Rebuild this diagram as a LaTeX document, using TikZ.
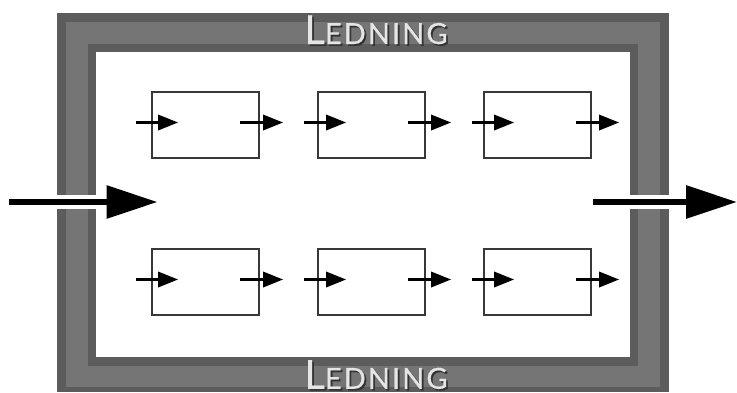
\documentclass[tikz,border=0pt]{standalone}
\usepackage{fontspec}
\setmainfont{Lato}
\usetikzlibrary{arrows.meta}
\newfontfamily\ledfont[LetterSpace=7,FakeBold=0.5]{Lato}
\definecolor{banddark}{gray}{0.36}
\definecolor{bandlight}{gray}{0.46}
\definecolor{boxline}{gray}{0.22}
\definecolor{lettercol}{gray}{0.90}
\definecolor{shadowcol}{gray}{0.20}
\newcommand{\ledword}{{\ledfont\fontsize{40}{40}\selectfont L\fontsize{29}{29}\selectfont EDNING}}
\newcommand{\shadowed}{\rlap{\kern1.8pt\raisebox{-1.8pt}{\textcolor{shadowcol}{\ledword}}}\textcolor{lettercol}{\ledword}}
\tikzset{
  x=1pt,y=-1pt,
  unitbox/.style={draw=boxline,line width=1.4pt,fill=white,minimum width=107pt,minimum height=66pt,inner sep=0pt,outer sep=0pt},
  smallarrow/.style={line width=2.2pt,-{Triangle[length=20pt,width=15.5pt]},shorten >=0pt},
  bigarrow/.style={line width=6pt,-{Triangle[length=51pt,width=32pt]}},
  lettering/.style={inner sep=0pt,anchor=base}
}
\begin{document}
\begin{tikzpicture}
\useasboundingbox (0,0) rectangle (737,392);
% frame
\fill[banddark] (57,13.3) rectangle (668.7,392);
\fill[bandlight] (65.5,22) rectangle (660.3,387);
\fill[banddark] (88,44) rectangle (638.3,365.5);
\fill[white] (96,52) rectangle (630,356.7);
\fill[white] (56,194.5) rectangle (96,209);
\fill[white] (630,194.5) rectangle (670,209);
% frame labels
\node[lettering] (toplabel) at (376,44) {\shadowed};
\node[lettering] (botlabel) at (376,388.8) {\shadowed};
% boxes
\foreach \c/\x/\d in {1/205.5/0,2/371.5/2,3/537.5/4}{
  \foreach \r/\y in {1/125,2/282}{
    \node[unitbox] (box\c\r) at (\x,\y) {};
    \coordinate (ina\c\r) at (\x-69.5+\d,\y-2.5);
    \coordinate (inb\c\r) at (\x-27.5+\d,\y-2.5);
    \coordinate (outa\c\r) at (\x+34.5+\d,\y-2.5);
    \coordinate (outb\c\r) at (\x+77.5+\d,\y-2.5);
    \draw[smallarrow] (ina\c\r) -- (inb\c\r);
    \draw[smallarrow] (outa\c\r) -- (outb\c\r);
  }
}
% main arrows
\coordinate (mainina) at (9,202);
\coordinate (maininb) at (157.5,202);
\coordinate (mainouta) at (593,202);
\coordinate (mainoutb) at (737,202);
\draw[bigarrow] (mainina) -- (maininb);
\draw[bigarrow] (mainouta) -- (mainoutb);
\end{tikzpicture}
\end{document}
